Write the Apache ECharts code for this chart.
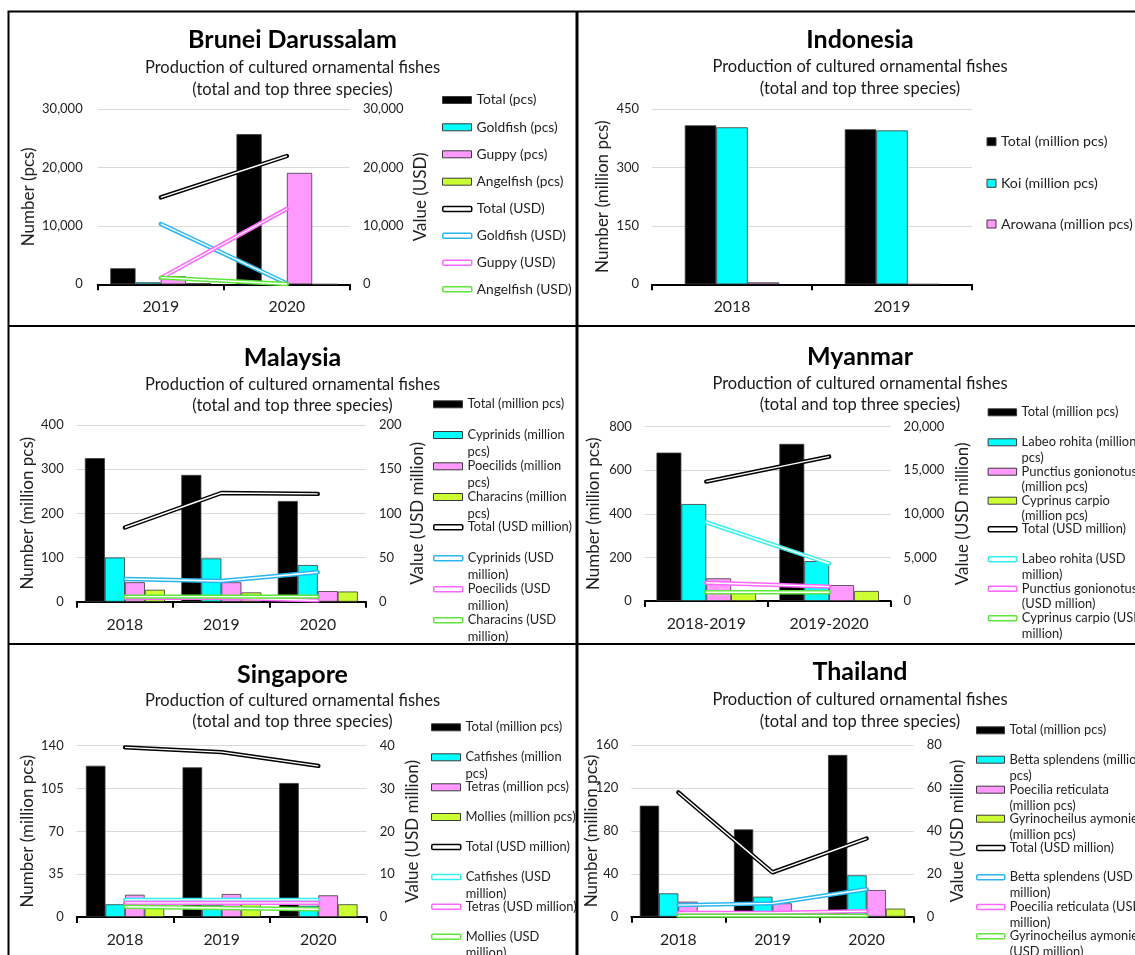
<!DOCTYPE html>
<html><head><meta charset="utf-8">
<script src="https://cdn.jsdelivr.net/npm/echarts@6/dist/echarts.min.js"></script>
<style>html,body{margin:0;padding:0;background:#fff}#c{width:1135px;height:955px}</style>
</head><body><div id="c"></div>
<script>
// ================= DATA =================
const subtitleText = 'Production of cultured ornamental fishes\n(total and top three species)';

// Brunei Darussalam
const bruneiYears = ['2019', '2020'];
const bruneiLabels = ['Total (pcs)', 'Goldfish (pcs)', 'Guppy (pcs)', 'Angelfish (pcs)',
  'Total (USD)', 'Goldfish (USD)', 'Guppy (USD)', 'Angelfish (USD)'];
const bruneiTotalPcs = [2750, 25750];
const bruneiGoldfishPcs = [340, 0];
const bruneiGuppyPcs = [1370, 19100];
const bruneiAngelfishPcs = [200, 0];
const bruneiTotalUsd = [14900, 22000];
const bruneiGoldfishUsd = [10350, 150];
const bruneiGuppyUsd = [1050, 12950];
const bruneiAngelfishUsd = [1150, 60];

// Indonesia
const indonesiaYears = ['2018', '2019'];
const indonesiaLabels = ['Total (million pcs)', 'Koi (million pcs)', 'Arowana (million pcs)'];
const indonesiaTotal = [408, 398];
const indonesiaKoi = [403, 395];
const indonesiaArowana = [5, 0];

// Malaysia
const malaysiaYears = ['2018', '2019', '2020'];
const malaysiaLabels = ['Total (million pcs)', 'Cyprinids (million\npcs)', 'Poecilids (million\npcs)', 'Characins (million\npcs)',
  'Total (USD million)', 'Cyprinids (USD\nmillion)', 'Poecilids (USD\nmillion)', 'Characins (USD\nmillion)'];
const malaysiaTotal = [325, 287, 228];
const malaysiaCyprinids = [100, 98, 83];
const malaysiaPoecilids = [44, 44, 24];
const malaysiaCharacins = [27, 21, 23];
const malaysiaTotalUsd = [84, 123, 122];
const malaysiaCyprinidsUsd = [25.7, 23.5, 33.3];
const malaysiaPoecilidsUsd = [4.5, 4.5, 1.5];
const malaysiaCharacinsUsd = [5.7, 5.7, 5.7];

// Myanmar
const myanmarYears = ['2018-2019', '2019-2020'];
const myanmarLabels = ['Total (million pcs)', 'Labeo rohita (million\npcs)', 'Punctius gonionotus\n(million pcs)', 'Cyprinus carpio\n(million pcs)',
  'Total (USD million)', 'Labeo rohita (USD\nmillion)', 'Punctius gonionotus\n(USD million)', 'Cyprinus carpio (USD\nmillion)'];
const myanmarTotal = [681, 721];
const myanmarLabeo = [445, 183];
const myanmarPunctius = [104, 73];
const myanmarCyprinus = [44, 46];
const myanmarTotalUsd = [13700, 16570];
const myanmarLabeoUsd = [9030, 4300];
const myanmarPunctiusUsd = [2100, 1650];
const myanmarCyprinusUsd = [1000, 1000];

// Singapore
const singaporeYears = ['2018', '2019', '2020'];
const singaporeLabels = ['Total (million pcs)', 'Catfishes (million\npcs)', 'Tetras (million pcs)', 'Mollies (million pcs)',
  'Total (USD million)', 'Catfishes (USD\nmillion)', 'Tetras (USD million)', 'Mollies (USD\nmillion)'];
const singaporeTotal = [123.6, 122.3, 109.5];
const singaporeCatfishes = [10.4, 9.8, 9.2];
const singaporeTetras = [18.2, 18.8, 17.7];
const singaporeMollies = [12, 12, 10.4];
const singaporeTotalUsd = [39.6, 38.5, 35.3];
const singaporeCatfishesUsd = [4.0, 4.0, 4.0];
const singaporeTetrasUsd = [3.3, 3.3, 3.3];
const singaporeMolliesUsd = [2.4, 2.1, 1.8];

// Thailand
const thailandYears = ['2018', '2019', '2020'];
const thailandLabels = ['Total (million pcs)', 'Betta splendens (million\npcs)', 'Poecilia reticulata\n(million pcs)', 'Gyrinocheilus aymonieri\n(million pcs)',
  'Total (USD million)', 'Betta splendens (USD\nmillion)', 'Poecilia reticulata (USD\nmillion)', 'Gyrinocheilus aymonieri\n(USD million)'];
const thailandTotal = [103.6, 81.5, 151];
const thailandBetta = [21.8, 18.7, 38.6];
const thailandPoecilia = [14, 12.5, 24.9];
const thailandGyrino = [3.2, 3.2, 7.5];
const thailandTotalUsd = [58, 20.7, 36.5];
const thailandBettaUsd = [5.4, 6.2, 12.8];
const thailandPoeciliaUsd = [1.8, 1.8, 2.6];
const thailandGyrinoUsd = [0.5, 0.5, 0.5];

// ================= STYLE / LAYOUT =================
const FONT = 'Lato';
const BAR = ['#000000', '#00FFFF', '#FF99FF', '#CCFF33'];
const SKY = '#29B6EE', CYAN = '#33EEEE', PINK = '#FF66FF', GREEN = '#5EE63A';
const NAME_FS = 17;

const panels = [
  { title: 'Brunei Darussalam', cx: 292.5, titleY: 40, sub: [68, 89.3],
    plot: [97.7, 109.3, 350, 284.3], cats: bruneiYears, catGap: '20%',
    left: { max: 30000, int: 10000, name: 'Number (pcs)', dist: 68.7, margin: 15 },
    right: { max: 30000, int: 10000, name: 'Value (USD)', dist: 70.2, margin: 13 },
    labels: bruneiLabels,
    bars: [bruneiTotalPcs, bruneiGoldfishPcs, bruneiGuppyPcs, bruneiAngelfishPcs],
    lines: [bruneiTotalUsd, bruneiGoldfishUsd, bruneiGuppyUsd, bruneiAngelfishUsd],
    lineColors: ['#000000', SKY, PINK, GREEN],
    leg: { x: 442, w: 29, h: 7, fs: 13.8, lh: 16, rows: [100, 127.3, 154.3, 181.7, 209, 235.7, 262.7, 289.3] } },
  { title: 'Indonesia', cx: 860, titleY: 40, sub: [66.7, 88.3],
    plot: [652, 109, 972, 284.3], cats: indonesiaYears, catGap: '41%',
    left: { max: 450, int: 150, name: 'Number (million pcs)', dist: 49, margin: 13 },
    right: null,
    labels: indonesiaLabels,
    bars: [indonesiaTotal, indonesiaKoi, indonesiaArowana],
    lines: [], lineColors: [],
    leg: { x: 986.5, w: 9, h: 8, fs: 14.2, lh: 16, rows: [141.7, 183.3, 224] } },
  { title: 'Malaysia', cx: 292.5, titleY: 358.3, sub: [384.3, 406],
    plot: [76.7, 425, 366, 601.7], cats: malaysiaYears, catGap: '17%',
    left: { max: 400, int: 100, name: 'Number (million pcs)', dist: 49, margin: 13 },
    right: { max: 200, int: 50, name: 'Value (USD million)', dist: 52, margin: 13 },
    labels: malaysiaLabels,
    bars: [malaysiaTotal, malaysiaCyprinids, malaysiaPoecilids, malaysiaCharacins],
    lines: [malaysiaTotalUsd, malaysiaCyprinidsUsd, malaysiaPoecilidsUsd, malaysiaCharacinsUsd],
    lineColors: ['#000000', SKY, PINK, GREEN],
    leg: { x: 433, w: 29, h: 7, fs: 12.9, lh: 16.5, rows: [404.3, 435, 466.3, 497, 527.3, 558.3, 589.3, 620.3] } },
  { title: 'Myanmar', cx: 860, titleY: 357.3, sub: [383.3, 405],
    plot: [644.8, 426.7, 890.6, 601], cats: myanmarYears, catGap: '19%',
    left: { max: 800, int: 200, name: 'Number (million pcs)', dist: 50.8, margin: 13 },
    right: { max: 20000, int: 5000, name: 'Value (USD million)', dist: 72.4, margin: 13 },
    labels: myanmarLabels,
    bars: [myanmarTotal, myanmarLabeo, myanmarPunctius, myanmarCyprinus],
    lines: [myanmarTotalUsd, myanmarLabeoUsd, myanmarPunctiusUsd, myanmarCyprinusUsd],
    lineColors: ['#000000', CYAN, PINK, GREEN],
    leg: { x: 987.6, w: 28.5, h: 7, fs: 12.9, lh: 15.5, rows: [412.3, 442.3, 471.7, 500.7, 529.3, 559.3, 588.7, 618.3] } },
  { title: 'Singapore', cx: 292.5, titleY: 674.7, sub: [700.3, 722],
    plot: [76.7, 745.7, 366.7, 917], cats: singaporeYears, catGap: '19%',
    left: { max: 140, int: 35, name: 'Number (million pcs)', dist: 49, margin: 13 },
    right: { max: 40, int: 10, name: 'Value (USD million)', dist: 46, margin: 13 },
    labels: singaporeLabels,
    bars: [singaporeTotal, singaporeCatfishes, singaporeTetras, singaporeMollies],
    lines: [singaporeTotalUsd, singaporeCatfishesUsd, singaporeTetrasUsd, singaporeMolliesUsd],
    lineColors: ['#000000', CYAN, PINK, GREEN],
    leg: { x: 431, w: 29, h: 7, fs: 12.9, lh: 16.5, rows: [727.3, 757.3, 787.3, 817, 847, 877, 906.7, 936.7] } },
  { title: 'Thailand', cx: 860, titleY: 672.3, sub: [699.7, 721.3],
    plot: [631.3, 745.3, 913.7, 916.7], cats: thailandYears, catGap: '18%',
    left: { max: 160, int: 40, name: 'Number (million pcs)', dist: 39.3, margin: 13 },
    right: { max: 80, int: 20, name: 'Value (USD million)', dist: 44.3, margin: 13 },
    labels: thailandLabels,
    bars: [thailandTotal, thailandBetta, thailandPoecilia, thailandGyrino],
    lines: [thailandTotalUsd, thailandBettaUsd, thailandPoeciliaUsd, thailandGyrinoUsd],
    lineColors: ['#000000', SKY, PINK, GREEN],
    leg: { x: 976, w: 28, h: 7, fs: 12.9, lh: 16, rows: [730.3, 759.7, 789.7, 818.7, 848, 877.3, 907, 936.3] } }
];

// ================= BUILD =================
const fmt = v => Number(v).toLocaleString('en-US');
const TXT = '#1f1f1f';
const opt = { animation: false, backgroundColor: '#ffffff', title: [], grid: [], xAxis: [], yAxis: [], series: [], legend: [], graphic: [] };

panels.forEach(p => {
  const gi = opt.grid.length;
  opt.grid.push({ left: p.plot[0], top: p.plot[1], width: p.plot[2] - p.plot[0], height: p.plot[3] - p.plot[1] });
  const subLH = p.sub[1] - p.sub[0];
  opt.title.push({
    text: p.title, subtext: subtitleText, left: p.cx, textAlign: 'center', top: p.titleY - 15, padding: 0,
    itemGap: p.sub[0] - p.titleY - 15 - subLH / 2,
    textStyle: { fontFamily: FONT, fontWeight: 'bold', fontSize: 25, lineHeight: 30, color: '#000' },
    subtextStyle: { fontFamily: FONT, fontSize: 16.5, lineHeight: subLH, color: '#1a1a1a', align: 'center' }
  });
  const xi = opt.xAxis.length;
  opt.xAxis.push({ type: 'category', gridIndex: gi, data: p.cats,
    axisLine: { lineStyle: { color: '#000', width: 2 } },
    axisTick: { show: true, length: 6, lineStyle: { color: '#000', width: 2 } },
    axisLabel: { fontFamily: FONT, fontSize: 15.8, color: TXT, margin: 15 } });
  const nameStyle = { fontFamily: FONT, fontSize: NAME_FS, color: TXT };
  const yl = opt.yAxis.length;
  opt.yAxis.push({ type: 'value', gridIndex: gi, position: 'left', min: 0, max: p.left.max, interval: p.left.int,
    name: p.left.name, nameLocation: 'middle', nameRotate: 90, nameGap: p.left.dist - NAME_FS / 2,
    nameMoveOverlap: false, nameTextStyle: nameStyle,
    axisLine: { show: false }, axisTick: { show: false },
    axisLabel: { fontFamily: FONT, fontSize: 13, color: TXT, margin: p.left.margin, formatter: fmt },
    splitLine: { lineStyle: { color: '#D9D9D9', width: 1 } } });
  let yr = null;
  if (p.right) {
    yr = opt.yAxis.length;
    opt.yAxis.push({ type: 'value', gridIndex: gi, position: 'right', min: 0, max: p.right.max, interval: p.right.int,
      name: p.right.name, nameLocation: 'middle', nameRotate: 90, nameGap: p.right.dist - NAME_FS / 2,
      nameMoveOverlap: false, nameTextStyle: nameStyle,
      axisLine: { show: false }, axisTick: { show: false },
      axisLabel: { fontFamily: FONT, fontSize: 13, color: TXT, margin: p.right.margin, formatter: fmt },
      splitLine: { show: false } });
  }
  const names = p.labels.map(l => l.replace('\n', ' '));
  p.bars.forEach((d, i) => {
    opt.series.push({ type: 'bar', name: names[i], xAxisIndex: xi, yAxisIndex: yl, data: d,
      barGap: '0%', barCategoryGap: p.catGap,
      itemStyle: { color: BAR[i], borderColor: '#3a3a3a', borderWidth: 0.8 } });
  });
  p.lines.forEach((d, i) => {
    const n = names[p.bars.length + i], c = p.lineColors[i];
    opt.series.push({ type: 'line', name: n, xAxisIndex: xi, yAxisIndex: yr, data: d, symbol: 'none', z: 3,
      itemStyle: { color: c }, lineStyle: { color: c, width: 4.4, cap: 'round' } });
    opt.series.push({ type: 'line', name: n, xAxisIndex: xi, yAxisIndex: yr, data: d, symbol: 'none', z: 3,
      itemStyle: { color: c }, lineStyle: { color: '#ffffff', width: 1.4 } });
  });
  // legends, one per entry; two-line entries get an empty first line so the
  // icon lines up with the first text line
  p.labels.forEach((lab, i) => {
    const isLine = i >= p.bars.length;
    const twoLine = lab.indexOf('\n') >= 0;
    const L = p.leg.lh;
    const c = isLine ? p.lineColors[i - p.bars.length] : BAR[i];
    const shown = twoLine ? '\n' + lab : lab;
    opt.legend.push({
      data: [{ name: names[i], icon: isLine ? 'roundRect' : 'rect',
        itemStyle: isLine ? { color: '#ffffff', borderColor: c, borderWidth: 1.5 } : { color: c, borderColor: '#3a3a3a', borderWidth: 1 } }],
      left: p.leg.x, top: p.leg.rows[i] - (twoLine ? 1.5 * L : 0.5 * L),
      orient: 'vertical', padding: 0,
      itemWidth: p.leg.w, itemHeight: isLine ? 5 : p.leg.h,
      formatter: () => shown,
      textStyle: { fontFamily: FONT, fontSize: p.leg.fs, lineHeight: L, color: TXT }
    });
  });
});

// panel borders
opt.graphic = [
  { type: 'rect', silent: true, z: 100, shape: { x: 8.5, y: 11.5, width: 1200, height: 1000 }, style: { fill: 'none', stroke: '#000', lineWidth: 2 } },
  { type: 'line', silent: true, z: 100, shape: { x1: 577, y1: 11, x2: 577, y2: 960 }, style: { stroke: '#000', lineWidth: 3 } },
  { type: 'line', silent: true, z: 100, shape: { x1: 8, y1: 326, x2: 1140, y2: 326 }, style: { stroke: '#000', lineWidth: 2 } },
  { type: 'line', silent: true, z: 100, shape: { x1: 8, y1: 644, x2: 1140, y2: 644 }, style: { stroke: '#000', lineWidth: 2 } }
];

const chart = echarts.init(document.getElementById('c'), null, { renderer: 'canvas' });
chart.setOption(opt);
</script></body></html>
